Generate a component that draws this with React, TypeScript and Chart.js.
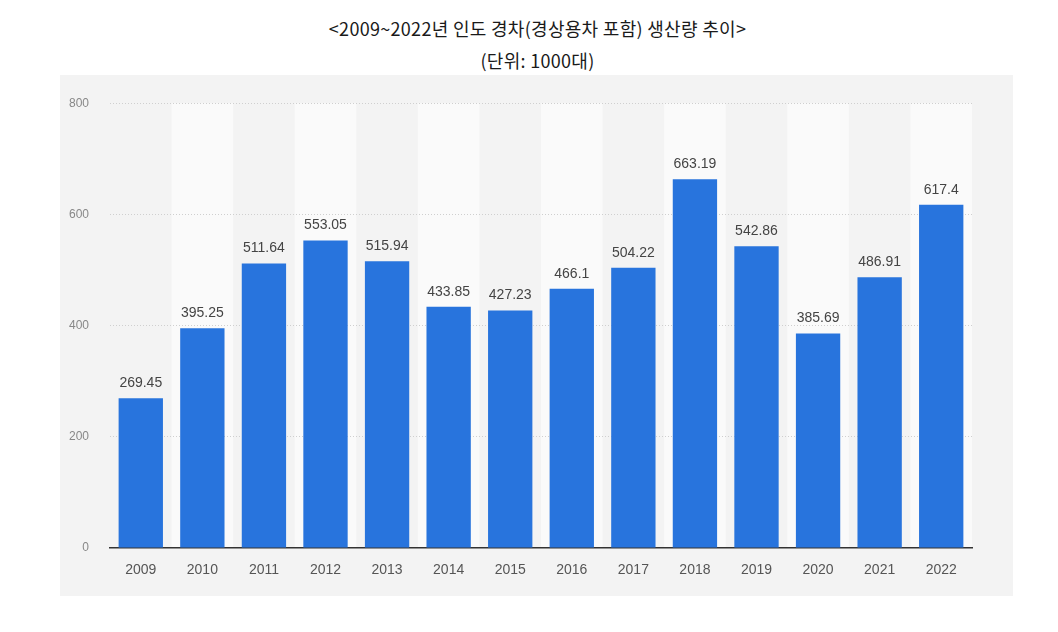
import React, { useEffect, useRef } from "react";
import { Chart, registerables } from "chart.js";

Chart.register(...registerables);

const titleText = "<2009~2022년 인도 경차(경상용차 포함) 생산량 추이>";
const subtitleText = "(단위: 1000대)";
const years = ["2009", "2010", "2011", "2012", "2013", "2014", "2015", "2016", "2017", "2018", "2019", "2020", "2021", "2022"];
const production = [269.45, 395.25, 511.64, 553.05, 515.94, 433.85, 427.23, 466.1, 504.22, 663.19, 542.86, 385.69, 486.91, 617.4];
const yTicks = [0, 200, 400, 600, 800];

const bandPlugin = {
  id: "bands",
  beforeDraw(chart: any) {
    const { ctx, chartArea, scales } = chart;
    const x = scales.x;
    ctx.save();
    ctx.fillStyle = "#fafafa";
    years.forEach((_, i) => {
      if (i % 2 === 1) {
        const c = x.getPixelForValue(i);
        const w = (chartArea.right - chartArea.left) / years.length;
        ctx.fillRect(c - w / 2, chartArea.top, w, chartArea.bottom - chartArea.top);
      }
    });
    ctx.restore();
  },
};

const labelPlugin = {
  id: "valueLabels",
  afterDatasetsDraw(chart: any) {
    const { ctx } = chart;
    const meta = chart.getDatasetMeta(0);
    ctx.save();
    ctx.font = "14px 'Liberation Sans', Arial, sans-serif";
    ctx.fillStyle = "#444";
    ctx.textAlign = "center";
    ctx.textBaseline = "bottom";
    meta.data.forEach((bar: any, i: number) => {
      ctx.fillText(String(production[i]), bar.x, bar.y - 8);
    });
    ctx.restore();
  },
};

export default function App() {
  const ref = useRef<HTMLCanvasElement>(null);
  useEffect(() => {
    if (!ref.current) return;
    const chart = new Chart(ref.current, {
      type: "bar",
      data: {
        labels: years,
        datasets: [
          {
            data: production,
            backgroundColor: "#2874dd",
            barPercentage: 0.72,
            categoryPercentage: 1,
          },
        ],
      },
      options: {
        animation: false,
        responsive: false,
        maintainAspectRatio: false,
        layout: { padding: { left: 0, right: 41, top: 28, bottom: 0 } },
        plugins: { legend: { display: false }, tooltip: { enabled: false } },
        scales: {
          x: {
            grid: { display: false, drawTicks: false },
            border: { display: true, color: "#333", width: 1.5 },
            ticks: {
              color: "#555",
              font: { size: 14, family: "'Liberation Sans', Arial, sans-serif" },
              padding: 14,
            },
            afterFit(scale: any) {
              scale.height = 48;
            },
          },
          y: {
            min: 0,
            max: 800,
            afterBuildTicks(scale: any) {
              scale.ticks = yTicks.map((v) => ({ value: v }));
            },
            grid: {
              color: (c: any) => (c.tick && c.tick.value === 0 ? "rgba(0,0,0,0)" : "#cfcfcf"),
              drawTicks: false,
              lineWidth: 1,
            },
            border: { display: false, dash: [1, 2] },
            ticks: {
              color: "#888",
              font: { size: 12, family: "'Liberation Sans', Arial, sans-serif" },
              padding: 21,
            },
            afterFit(scale: any) {
              scale.width = 50;
            },
          },
        },
      },
      plugins: [bandPlugin, labelPlugin],
    } as any);
    return () => chart.destroy();
  }, []);

  const titleStyle: React.CSSProperties = {
    position: "absolute",
    left: 0,
    width: 1075,
    textAlign: "center",
    fontFamily: "'Noto Sans CJK KR', sans-serif",
    fontSize: 18,
    fontWeight: 400,
    letterSpacing: 0.3,
    color: "#1a1a1a",
    lineHeight: "28px",
  };

  return (
    <div style={{ position: "fixed", left: 0, top: 0, width: 1058, height: 632, background: "#fff" }}>
      <div style={{ ...titleStyle, top: 14 }}>{titleText}</div>
      <div style={{ ...titleStyle, top: 46 }}>{subtitleText}</div>
      <div style={{ position: "absolute", left: 60, top: 75, width: 953, height: 521, background: "#f3f3f3" }}>
        <canvas ref={ref} width={953} height={521} style={{ display: "block", width: 953, height: 521 }} />
      </div>
    </div>
  );
}
